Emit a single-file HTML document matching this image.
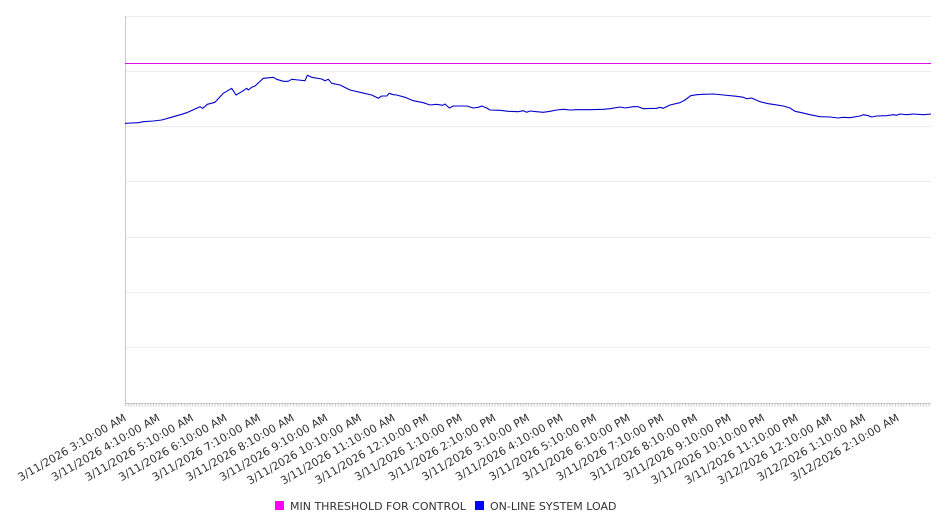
<!DOCTYPE html>
<html>
<head>
<meta charset="utf-8">
<style>
html,body{margin:0;padding:0;background:#fff;}
svg{display:block;}
text{font-family:"DejaVu Sans","Liberation Sans",sans-serif;}
</style>
</head>
<body>
<svg width="946" height="526" viewBox="0 0 946 526" xmlns="http://www.w3.org/2000/svg">
<defs>
<pattern id="tk" patternUnits="userSpaceOnUse" x="125" y="403" width="2.8" height="4">
<rect x="0" y="0" width="1" height="4" fill="#c8c8c8"/>
</pattern>
</defs>
<rect width="946" height="526" fill="#fff"/>
<g fill="#ebebeb">
<rect x="126" y="16" width="805" height="1"/>
<rect x="126" y="71" width="805" height="1"/>
<rect x="126" y="126" width="805" height="1"/>
<rect x="126" y="181" width="805" height="1"/>
<rect x="126" y="237" width="805" height="1"/>
<rect x="126" y="292" width="805" height="1"/>
<rect x="126" y="347" width="805" height="1"/>
</g>
<rect x="125" y="403" width="806" height="3.5" fill="url(#tk)"/>
<rect x="125" y="403" width="806" height="1" fill="#c8c8c8"/>
<rect x="125" y="16" width="1" height="390" fill="#c8c8c8"/>
<rect x="125" y="63" width="806" height="1" fill="#e010e0"/>
<polyline fill="none" stroke="#0000cc" stroke-width="1.1" stroke-linejoin="round" points="
125,123.8 126,123.3 138.3,122.7 143.3,121.7 153.3,121 161.7,120 170,117.7 181.7,114.3 186.7,112.7 195,109 200,106.7 202.7,108.3 207.3,104.3 215,102.3 223.3,93.3 231.7,88.3 236,95 241.7,91.7 246.7,88.3 248.3,90 251.7,87.3 255,86 263.3,78.3 273.3,77.3 276.7,79.3 283.3,81.3 288.3,81.3 291.7,79.3 298.3,80 305,80.7 307.3,75.3 311.7,77.3 321.7,79 325,80.7 328.3,79.3 331.7,83.3 340,85 350,90 360,92.3 371.7,95 378.3,98.3 381.7,96 386.7,96 389.3,93.3 393.3,94.7 396.7,95 405,97.3 413.3,100.7 423.3,102.7 430,105 436.7,104.3 442.7,105.3 445,104 449.3,108 453.3,106 466.7,106 473.3,108 478.3,107.3 481.7,106 486.7,108 490,110 500,110.3 508.3,111.3 518.3,111.7 523.3,110.7 526.7,112.3 530,111 536.7,111.7 543.3,112.3 550,111.3 556.7,110 563.3,109.3 570,110 576.7,109.7 590,109.7 603.3,109.3 610,108.7 620,107 625,108 633.3,106.7 638.3,106.7 643.3,108.7 656.7,108.3 660,107.3 663.3,108.3 670,105 680,102.7 685,100 690.7,95.7 696.7,94.7 703.3,94.3 713.3,94 723.3,95 736.7,96.3 743.3,97.3 746.7,98.7 751.7,98 760,101.7 768.3,103.7 775,104.7 783.3,106 790,108 795,111.3 801.7,112.7 810,114.7 820,116.7 830,117 838.3,118 843.3,117.3 850,117.7 860,116 863.3,114.7 868.3,115.7 871.7,117 876.7,116 886.7,115.7 893.3,114.7 896.7,115.3 900,114 906.7,114.7 913.3,114 923.3,114.7 931,114"/>
<g font-size="11" fill="#333" text-anchor="end">
<text transform="translate(127,420) rotate(-30)">3/11/2026 3:10:00 AM</text>
<text transform="translate(160.6,420) rotate(-30)">3/11/2026 4:10:00 AM</text>
<text transform="translate(194.2,420) rotate(-30)">3/11/2026 5:10:00 AM</text>
<text transform="translate(227.8,420) rotate(-30)">3/11/2026 6:10:00 AM</text>
<text transform="translate(261.4,420) rotate(-30)">3/11/2026 7:10:00 AM</text>
<text transform="translate(295,420) rotate(-30)">3/11/2026 8:10:00 AM</text>
<text transform="translate(328.6,420) rotate(-30)">3/11/2026 9:10:00 AM</text>
<text transform="translate(362.2,420) rotate(-30)">3/11/2026 10:10:00 AM</text>
<text transform="translate(395.8,420) rotate(-30)">3/11/2026 11:10:00 AM</text>
<text transform="translate(429.4,420) rotate(-30)">3/11/2026 12:10:00 PM</text>
<text transform="translate(463,420) rotate(-30)">3/11/2026 1:10:00 PM</text>
<text transform="translate(496.6,420) rotate(-30)">3/11/2026 2:10:00 PM</text>
<text transform="translate(530.2,420) rotate(-30)">3/11/2026 3:10:00 PM</text>
<text transform="translate(563.8,420) rotate(-30)">3/11/2026 4:10:00 PM</text>
<text transform="translate(597.4,420) rotate(-30)">3/11/2026 5:10:00 PM</text>
<text transform="translate(631,420) rotate(-30)">3/11/2026 6:10:00 PM</text>
<text transform="translate(664.6,420) rotate(-30)">3/11/2026 7:10:00 PM</text>
<text transform="translate(698.2,420) rotate(-30)">3/11/2026 8:10:00 PM</text>
<text transform="translate(731.8,420) rotate(-30)">3/11/2026 9:10:00 PM</text>
<text transform="translate(765.4,420) rotate(-30)">3/11/2026 10:10:00 PM</text>
<text transform="translate(799,420) rotate(-30)">3/11/2026 11:10:00 PM</text>
<text transform="translate(832.6,420) rotate(-30)">3/12/2026 12:10:00 AM</text>
<text transform="translate(866.2,420) rotate(-30)">3/12/2026 1:10:00 AM</text>
<text transform="translate(899.8,420) rotate(-30)">3/12/2026 2:10:00 AM</text>
</g>
<rect x="275" y="501" width="9" height="9" fill="#ff00ff"/>
<text x="290" y="510" font-size="11" fill="#333">MIN THRESHOLD FOR CONTROL</text>
<rect x="475" y="501" width="9" height="9" fill="#0000ff"/>
<text x="490" y="510" font-size="11" fill="#333">ON-LINE SYSTEM LOAD</text>
</svg>
</body>
</html>
